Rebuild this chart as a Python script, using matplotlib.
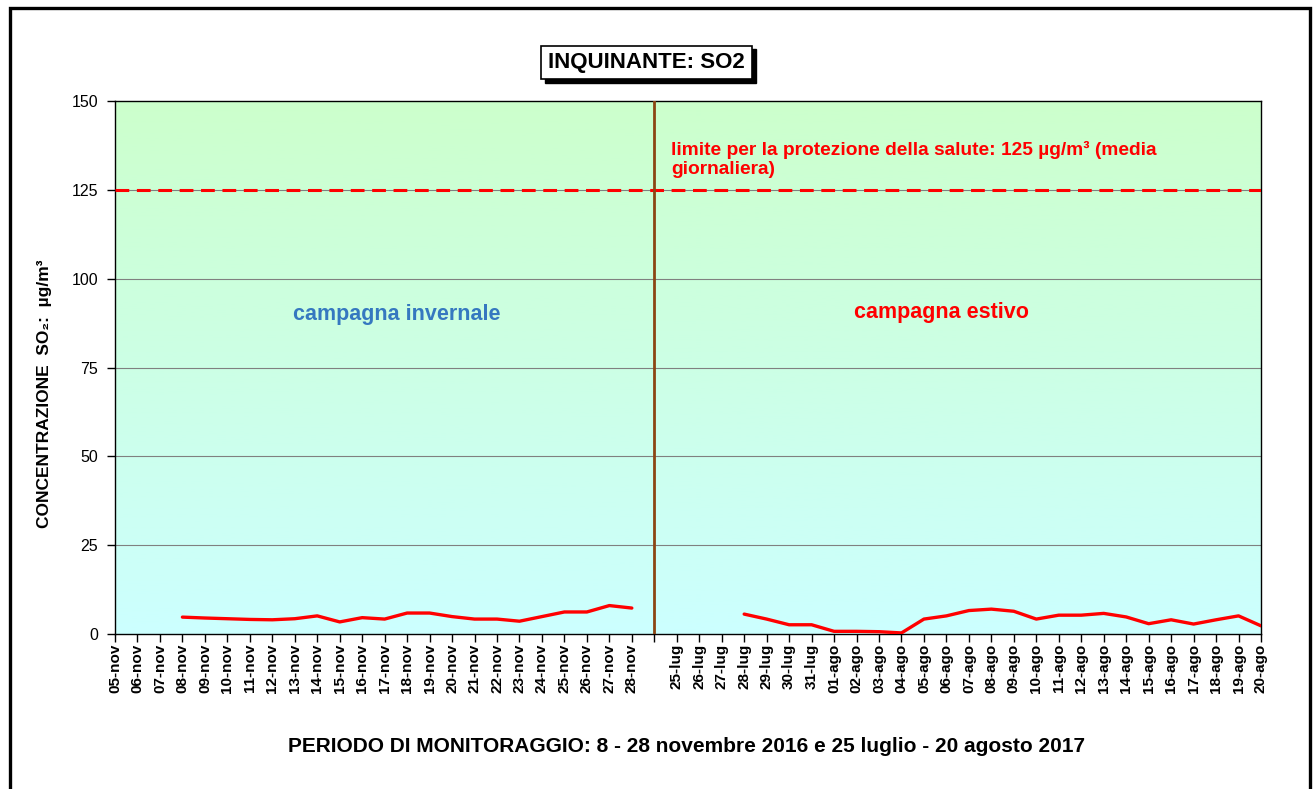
import numpy as np
import matplotlib
matplotlib.use("Agg")
import matplotlib.pyplot as plt
from matplotlib.patches import Rectangle

plt.rcParams['font.family'] = ['Liberation Sans', 'DejaVu Sans']

# categorie asse x (posizione vuota tra le due campagne)
nov_labels = ['05-nov', '06-nov', '07-nov', '08-nov', '09-nov', '10-nov', '11-nov', '12-nov',
              '13-nov', '14-nov', '15-nov', '16-nov', '17-nov', '18-nov', '19-nov', '20-nov',
              '21-nov', '22-nov', '23-nov', '24-nov', '25-nov', '26-nov', '27-nov', '28-nov']
est_labels = ['25-lug', '26-lug', '27-lug', '28-lug', '29-lug', '30-lug', '31-lug',
              '01-ago', '02-ago', '03-ago', '04-ago', '05-ago', '06-ago', '07-ago', '08-ago',
              '09-ago', '10-ago', '11-ago', '12-ago', '13-ago', '14-ago', '15-ago', '16-ago',
              '17-ago', '18-ago', '19-ago', '20-ago']

# SO2 medie giornaliere (ug/m3)
so2_nov = [np.nan, np.nan, np.nan, 4.75, 4.5, 4.3, 4.1, 4.0, 4.3, 5.1, 3.4, 4.6, 4.2,
           5.9, 5.9, 4.9, 4.2, 4.2, 3.6, 4.9, 6.2, 6.2, 8.0, 7.3]
so2_est = [np.nan, np.nan, np.nan, 5.6, 4.2, 2.6, 2.6, 0.75, 0.75, 0.65, 0.3, 4.2, 5.1,
           6.6, 7.0, 6.4, 4.2, 5.3, 5.3, 5.8, 4.8, 2.9, 4.0, 2.8, 4.0, 5.1, 2.3]
limite = 125

labels = nov_labels + [''] + est_labels
x_nov = np.arange(len(nov_labels))
x_est = np.arange(len(est_labels)) + len(nov_labels) + 1
x_sep = len(nov_labels)

W, H = 1313, 789
fig = plt.figure(figsize=(W / 100, H / 100), dpi=100)

# cornice esterna
fig.patches.append(Rectangle((10 / W, -0.05), 1300 / W, 1 - 8 / H + 0.05, transform=fig.transFigure,
                             fill=False, edgecolor='black', linewidth=2.4))

ax = fig.add_axes([115 / W, 1 - 634 / H, (1261 - 115) / W, (634 - 101) / H])
n = len(labels)
ax.set_xlim(0, n - 1)
ax.set_ylim(0, 150)

# sfondo sfumato verde -> azzurro
grad = np.linspace(1, 0, 256).reshape(-1, 1)
top = np.array([204, 255, 204]) / 255
bot = np.array([204, 255, 255]) / 255
img = (grad[..., None] * top + (1 - grad[..., None]) * bot)
ax.imshow(img, extent=(0, n - 1, 0, 150), aspect='auto', zorder=0)

for yv in [25, 50, 75, 100, 125]:
    ax.axhline(yv, color='#808080', linewidth=0.8, zorder=1)
ax.axhline(limite, color='#ff0000', linewidth=2.2, linestyle=(0, (4.5, 2.5)), zorder=3)
ax.axvline(x_sep, color='#8B4513', linewidth=2, zorder=4)

ax.plot(x_nov, so2_nov, color='#ff0000', linewidth=2.4, zorder=5, solid_capstyle='round')
ax.plot(x_est, so2_est, color='#ff0000', linewidth=2.4, zorder=5, solid_capstyle='round')

ax.set_xticks(np.arange(n))
ax.set_xticklabels(labels, rotation=90, fontsize=11, fontweight='bold')
ax.set_yticks([0, 25, 50, 75, 100, 125, 150])
ax.tick_params(axis='x', direction='out', length=6, width=1, pad=1)
ax.tick_params(axis='y', direction='out', length=6, width=1, pad=6, labelsize=11.5)
for s in ax.spines.values():
    s.set_color('black')
    s.set_linewidth(1)

ax.set_ylabel('CONCENTRAZIONE  SO₂:  µg/m³', fontsize=12.5, fontweight='bold')
ax.yaxis.set_label_coords((52 - 115) / 1146, (634 - 394) / 533)
fig.text(687 / W, 1 - 747 / H,
         'PERIODO DI MONITORAGGIO: 8 - 28 novembre 2016 e 25 luglio - 20 agosto 2017',
         fontsize=15, fontweight='bold', ha='center', va='center')

ax.text(12.55, 90, 'campagna invernale', color='#3578C0', fontsize=15.5, fontweight='bold',
        ha='center', va='center')
ax.text(36.8, 90.5, 'campagna estivo', color='#ff0000', fontsize=15.5, fontweight='bold',
        ha='center', va='center')
ax.text(24.75, 133.5, 'limite per la protezione della salute: 125 µg/m³ (media\ngiornaliera)',
        color='#ff0000', fontsize=13.8, fontweight='bold', ha='left', va='center', linespacing=1.15)

# titolo in riquadro con ombra
fig.patches.append(Rectangle((545 / W, 1 - 83 / H), 211 / W, 34 / H, transform=fig.transFigure,
                             facecolor='black', edgecolor='black'))
fig.patches.append(Rectangle((541 / W, 1 - 79 / H), 211 / W, 33 / H, transform=fig.transFigure,
                             facecolor='white', edgecolor='black', linewidth=1.2))
fig.text(646.5 / W, 1 - 62.5 / H, 'INQUINANTE: SO2', fontsize=16, fontweight='bold',
         ha='center', va='center')

fig.savefig('out.png', dpi=100)
